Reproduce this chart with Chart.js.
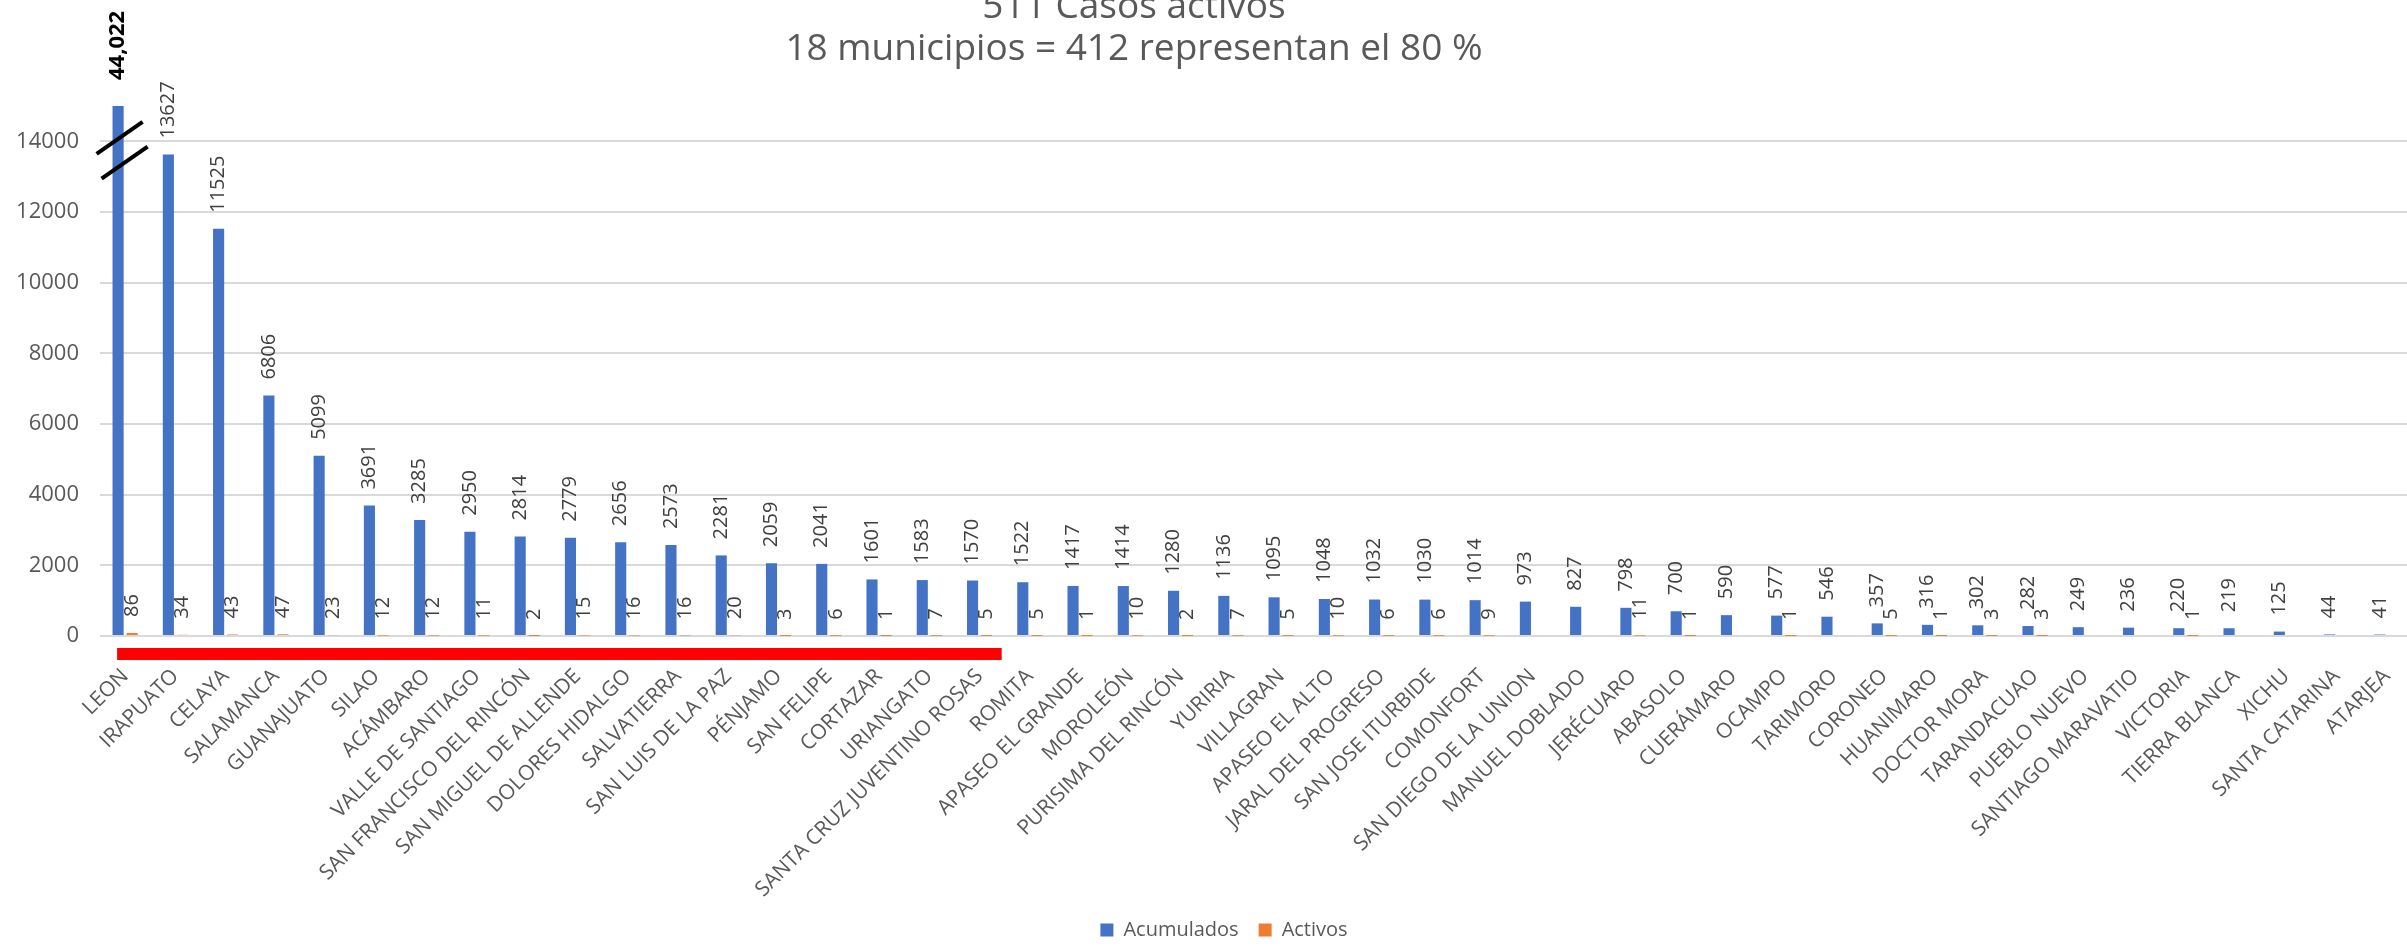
<!DOCTYPE html>
<html lang="es">
<head>
    <meta charset="UTF-8">
    <title>Casos por municipio</title>
    <script src="https://cdn.jsdelivr.net/npm/chart.js"></script>
    <style>
        html, body { margin: 0; padding: 0; background: #fff; overflow: hidden; }
        .wrap { width: 2407px; height: 951px; overflow: hidden; }
        canvas { display: block; }
    </style>
</head>
<body>
    <div class="wrap">
        <canvas id="barChart" width="2450" height="951"></canvas>
    </div>
    <script>
        // Datos
        const municipios = ['LEON', 'IRAPUATO', 'CELAYA', 'SALAMANCA', 'GUANAJUATO', 'SILAO', 'ACÁMBARO',
            'VALLE DE SANTIAGO', 'SAN FRANCISCO DEL RINCÓN', 'SAN MIGUEL DE ALLENDE', 'DOLORES HIDALGO',
            'SALVATIERRA', 'SAN LUIS DE LA PAZ', 'PÉNJAMO', 'SAN FELIPE', 'CORTAZAR', 'URIANGATO',
            'SANTA CRUZ JUVENTINO ROSAS', 'ROMITA', 'APASEO EL GRANDE', 'MOROLEÓN', 'PURISIMA DEL RINCÓN',
            'YURIRIA', 'VILLAGRAN', 'APASEO EL ALTO', 'JARAL DEL PROGRESO', 'SAN JOSE ITURBIDE', 'COMONFORT',
            'SAN DIEGO DE LA UNION', 'MANUEL DOBLADO', 'JERÉCUARO', 'ABASOLO', 'CUERÁMARO', 'OCAMPO',
            'TARIMORO', 'CORONEO', 'HUANIMARO', 'DOCTOR MORA', 'TARANDACUAO', 'PUEBLO NUEVO',
            'SANTIAGO MARAVATIO', 'VICTORIA', 'TIERRA BLANCA', 'XICHU', 'SANTA CATARINA', 'ATARJEA'];

        const acumulados = [44022, 13627, 11525, 6806, 5099, 3691, 3285, 2950, 2814, 2779, 2656, 2573, 2281,
            2059, 2041, 1601, 1583, 1570, 1522, 1417, 1414, 1280, 1136, 1095, 1048, 1032, 1030, 1014, 973,
            827, 798, 700, 590, 577, 546, 357, 316, 302, 282, 249, 236, 220, 219, 125, 44, 41];

        const activos = [86, 34, 43, 47, 23, 12, 12, 11, 2, 15, 16, 16, 20, 3, 6, 1, 7, 5, 5, 1, 10, 2, 7, 5,
            10, 6, 6, 9, null, null, 11, 1, null, 1, null, 5, 1, 3, 3, null, null, 1, null, null, null, null];

        const yTicks = [0, 2000, 4000, 6000, 8000, 10000, 12000, 14000];
        const yMax = 15000;
        const corteNiveles = [14100, 13400];   // marcas de eje cortado en la barra de LEON
        const topMunicipios = 18;
        const tituloLineas = ['511 Casos activos', '18 municipios = 412 representan el 80 %'];

        const FONT = '"Open Sans", sans-serif';
        const CHART_BOTTOM = 636;
        const BOTTOM_PAD = 1;

        Chart.defaults.font.family = FONT;
        Chart.defaults.color = '#595959';

        // Titulo (centrado como en el original)
        const titulo = {
            id: 'titulo',
            afterDraw(chart) {
                const ctx = chart.ctx;
                ctx.save();
                ctx.font = '37px ' + FONT;
                ctx.fillStyle = '#595959';
                ctx.textAlign = 'center';
                ctx.textBaseline = 'alphabetic';
                ctx.fillText(tituloLineas[0], 1134, 18);
                ctx.fillText(tituloLineas[1], 1134, 60);
                ctx.restore();
            }
        };

        // Barra roja bajo los municipios que suman el 80 %
        const resaltado = {
            id: 'resaltado',
            afterDraw(chart) {
                const x = chart.scales.x;
                const a = chart.chartArea;
                const ctx = chart.ctx;
                const w = x.getPixelForValue(1) - x.getPixelForValue(0);
                const left = x.getPixelForValue(0) - 0.16 * w;
                const right = x.getPixelForValue(topMunicipios - 1) + 0.44 * w;
                ctx.save();
                ctx.fillStyle = '#FF0000';
                ctx.fillRect(left, a.bottom + 12, right - left, 12);
                ctx.restore();
            }
        };

        // Marcas de corte
        const corte = {
            id: 'corte',
            afterDatasetsDraw(chart) {
                const bar = chart.getDatasetMeta(0).data[0];
                const y = chart.scales.y;
                const ctx = chart.ctx;
                ctx.save();
                ctx.strokeStyle = '#000';
                ctx.lineWidth = 4;
                corteNiveles.forEach((v, i) => {
                    const cy = y.getPixelForValue(v);
                    const cx = bar.x + 1.5 + i * 5;
                    ctx.beginPath();
                    ctx.moveTo(cx - 23, cy + 16);
                    ctx.lineTo(cx + 23, cy - 16);
                    ctx.stroke();
                });
                ctx.restore();
            }
        };

        // Etiquetas de datos verticales
        const etiquetas = {
            id: 'etiquetas',
            afterDatasetsDraw(chart) {
                const ctx = chart.ctx;
                const a = chart.chartArea;
                chart.data.datasets.forEach((ds, i) => {
                    chart.getDatasetMeta(i).data.forEach((bar, j) => {
                        const v = ds.data[j];
                        if (v === null || v === undefined) return;
                        const roto = v > yMax;
                        const y = roto ? a.top - 26 : bar.y - 16;
                        ctx.save();
                        ctx.translate(bar.x, y);
                        ctx.rotate(-Math.PI / 2);
                        ctx.font = (roto ? 'bold 22px ' : '20px ') + FONT;
                        ctx.fillStyle = roto ? '#000' : '#404040';
                        ctx.textAlign = 'left';
                        ctx.textBaseline = 'middle';
                        ctx.fillText(roto ? v.toLocaleString('en-US') : String(v), 0, 0);
                        ctx.restore();
                    });
                });
            }
        };

        const ctxBar = document.getElementById('barChart').getContext('2d');
        const barChart = new Chart(ctxBar, {
            type: 'bar',
            data: {
                labels: municipios,
                datasets: [{
                    label: 'Acumulados',
                    data: acumulados,
                    backgroundColor: '#4472C4',
                    categoryPercentage: 0.56,
                    barPercentage: 0.79,
                    clip: 0
                }, {
                    label: 'Activos',
                    data: activos,
                    backgroundColor: '#ED7D31',
                    categoryPercentage: 0.56,
                    barPercentage: 0.79,
                    clip: 0
                }]
            },
            options: {
                responsive: false,
                animation: false,
                devicePixelRatio: 1,
                layout: { padding: { top: 106, left: 0, right: 2, bottom: BOTTOM_PAD } },
                plugins: {
                    legend: {
                        position: 'bottom',
                        labels: {
                            boxWidth: 13,
                            boxHeight: 13,
                            padding: 20,
                            color: '#595959',
                            font: { size: 20 }
                        }
                    },
                    tooltip: { enabled: false }
                },
                scales: {
                    x: {
                        grid: { display: false, drawTicks: false },
                        border: { display: false },
                        ticks: {
                            autoSkip: false,
                            minRotation: 45,
                            maxRotation: 45,
                            padding: 28,
                            color: '#595959',
                            font: { size: 21 }
                        },
                        afterFit(s) {
                            const lh = s.chart.legend ? s.chart.legend.height : 0;
                            s.height = s.chart.height - BOTTOM_PAD - lh - CHART_BOTTOM;
                        }
                    },
                    y: {
                        min: 0,
                        max: yMax,
                        grid: { color: '#D9D9D9', lineWidth: 2, drawTicks: false },
                        border: { display: false },
                        ticks: {
                            stepSize: 2000,
                            includeBounds: false,
                            padding: 21,
                            color: '#595959',
                            font: { size: 22 },
                            callback: v => String(v)
                        },
                        afterBuildTicks(s) {
                            s.ticks = yTicks.map(v => ({ value: v }));
                        },
                        afterFit(s) {
                            s.width = 100;
                        }
                    },
                    // eje vacio a la derecha: solo reserva espacio fuera de la vista
                    margen: {
                        type: 'linear',
                        position: 'right',
                        grid: { display: false, drawTicks: false },
                        border: { display: false },
                        ticks: { display: false },
                        afterFit(s) {
                            s.width = 36;
                        }
                    }
                }
            },
            plugins: [titulo, resaltado, corte, etiquetas]
        });
    </script>
</body>
</html>
